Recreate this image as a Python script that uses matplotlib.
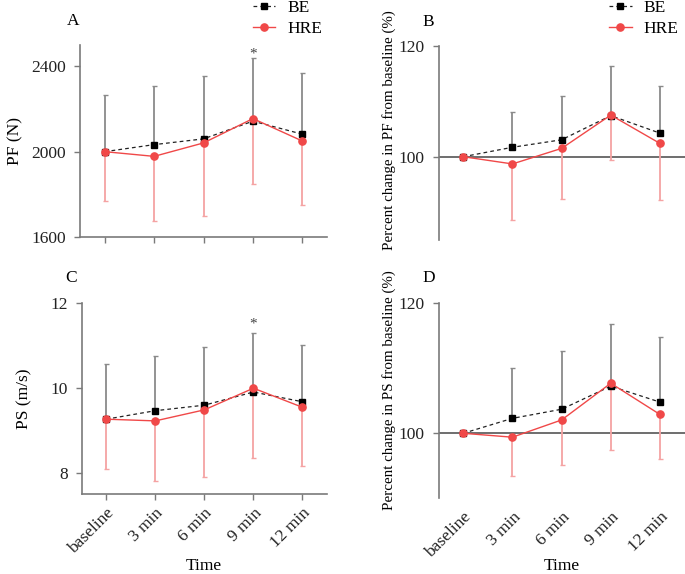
import matplotlib
matplotlib.use("Agg")
import matplotlib.pyplot as plt
import numpy as np

plt.rcParams['font.family'] = ['Liberation Serif', 'DejaVu Serif']

times = ["baseline", "3 min", "6 min", "9 min", "12 min"]

# Panel A: PF (N)
pf_be = [2000, 2033, 2060, 2143, 2082]
pf_be_sd = [267, 276, 293, 298, 285]
pf_hre = [2000, 1978, 2041, 2155, 2050]
pf_hre_sd = [232, 304, 344, 306, 298]

# Panel B: percent change in PF
pfp_be = [100, 101.7, 103.05, 107.4, 104.25]
pfp_be_sd = [0, 6.4, 7.95, 9.0, 8.55]
pfp_hre = [100, 98.7, 101.5, 107.5, 102.4]
pfp_hre_sd = [0, 10.1, 9.2, 8.1, 10.2]

# Panel C: PS (m/s)
ps_be = [9.27, 9.47, 9.60, 9.91, 9.68]
ps_be_sd = [1.29, 1.30, 1.36, 1.40, 1.34]
ps_hre = [9.27, 9.23, 9.49, 10.0, 9.55]
ps_hre_sd = [1.18, 1.42, 1.58, 1.64, 1.38]

# Panel D: percent change in PS
psp_be = [100, 102.3, 103.7, 107.25, 104.8]
psp_be_sd = [0, 7.8, 8.95, 9.55, 10.0]
psp_hre = [100, 99.4, 102.05, 107.7, 102.9]
psp_hre_sd = [0, 6.0, 6.95, 10.2, 6.8]

RED = '#f04848'
RED_EB = '#f5a3a3'
BLK_EB = '#8a8a8a'
SPINE = '#7a7a7a'
FS = 12.5

fig = plt.figure(figsize=(6.85, 5.74), dpi=100)
axA = fig.add_axes([0.1168, 0.5871, 0.3606, 0.3345])
axB = fig.add_axes([0.6404, 0.5819, 0.3589, 0.3385])
axC = fig.add_axes([0.1193, 0.1388, 0.3581, 0.3328])
axD = fig.add_axes([0.6404, 0.1319, 0.3589, 0.3397])

x = np.arange(len(times))


def draw(ax, be, be_sd, hre, hre_sd):
    ax.errorbar(x, be, yerr=[np.zeros(len(be)), be_sd], fmt='none', ecolor=BLK_EB,
                elinewidth=1.3, capsize=1.8, capthick=1.0, zorder=2)
    ax.errorbar(x, hre, yerr=[hre_sd, np.zeros(len(hre))], fmt='none', ecolor=RED_EB,
                elinewidth=1.3, capsize=1.8, capthick=1.0, zorder=2)
    lb, = ax.plot(x, be, linestyle=(0, (3, 2.5)), color='#222222', lw=0.9,
                  marker='s', ms=4.5, mfc='black', mec='black', zorder=3, label='BE')
    lh, = ax.plot(x, hre, linestyle='-', color=RED, lw=1.0,
                  marker='o', ms=5.2, mfc=RED, mec=RED, zorder=4, label='HRE')
    ax.set_xlim(-0.5, 4.5)
    for s in ['top', 'right']:
        ax.spines[s].set_visible(False)
    for s in ['left', 'bottom']:
        ax.spines[s].set_color(SPINE)
        ax.spines[s].set_linewidth(1.2)
    ax.tick_params(axis='both', labelcolor='#222222', labelsize=FS, length=4,
                   width=1.0, direction='out', color=SPINE)
    ax.tick_params(axis='y', pad=6)
    return lb, lh


def legend(ax, lb, lh, xfig):
    ax.legend([lb, lh], ['BE', 'HRE'], loc='upper left',
              bbox_to_anchor=(xfig, 1.0005), bbox_transform=fig.transFigure,
              frameon=False, fontsize=FS, handlelength=1.3, borderaxespad=0,
              borderpad=0, labelspacing=0.3, handletextpad=0.7)


# Panel A
lb, lh = draw(axA, pf_be, pf_be_sd, pf_hre, pf_hre_sd)
axA.set_ylim(1600, 2500)
axA.set_yticks([1600, 2000, 2400])
axA.set_xticks(x)
axA.set_xticklabels([])
axA.set_ylabel('PF (N)', fontsize=FS, labelpad=6)
axA.text(3, pf_be[3] + pf_be_sd[3] - 12, '*', ha='center', va='bottom', fontsize=11, color='#444444')
axA.text(-0.055, 1.125, 'A', transform=axA.transAxes, fontsize=FS, va='center')
legend(axA, lb, lh, 0.369)

# Panel B
draw(axB, pfp_be, pfp_be_sd, pfp_hre, pfp_hre_sd)
axB.set_ylim(85, 120)
axB.set_yticks([100, 120])
axB.spines['bottom'].set_visible(False)
axB.tick_params(axis='x', bottom=False, labelbottom=False)
axB.axhline(100, color='#555555', lw=1.2, zorder=1)
axB.set_ylabel('Percent change in PF from baseline (%)', fontsize=10.8)
axB.yaxis.set_label_coords(-0.172, 0.566)
axB.text(-0.064, 1.12, 'B', transform=axB.transAxes, fontsize=FS, va='center')
legend(axB, lb, lh, 0.889)

# Panel C
draw(axC, ps_be, ps_be_sd, ps_hre, ps_hre_sd)
axC.set_ylim(7.5, 12)
axC.set_yticks([8, 10, 12])
axC.set_xticks(x)
axC.set_xticklabels(times, rotation=45, ha='right', rotation_mode='anchor')
axC.set_ylabel('PS (m/s)', fontsize=FS, labelpad=13)
axC.text(3, ps_be[3] + ps_be_sd[3] + 0.05, '*', ha='center', va='bottom', fontsize=11, color='#444444')
axC.text(-0.068, 1.13, 'C', transform=axC.transAxes, fontsize=FS, va='center')
fig.text((80 + 327) / 2 / 685, 0.007, 'Time', ha='center', va='baseline', fontsize=FS)

# Panel D
draw(axD, psp_be, psp_be_sd, psp_hre, psp_hre_sd)
axD.set_ylim(90, 120)
axD.set_yticks([100, 120])
axD.spines['bottom'].set_visible(False)
axD.axhline(100, color='#555555', lw=1.2, zorder=1)
axD.set_xticks(x)
axD.set_xticklabels(times, rotation=45, ha='right', rotation_mode='anchor')
axD.tick_params(axis='x', bottom=False)
axD.set_ylabel('Percent change in PS from baseline (%)', fontsize=10.8)
axD.yaxis.set_label_coords(-0.172, 0.555)
axD.text(-0.064, 1.128, 'D', transform=axD.transAxes, fontsize=FS, va='center')
fig.text((438.7 + 685) / 2 / 685, 0.007, 'Time', ha='center', va='baseline', fontsize=FS)

fig.savefig('out.png', dpi=100)
